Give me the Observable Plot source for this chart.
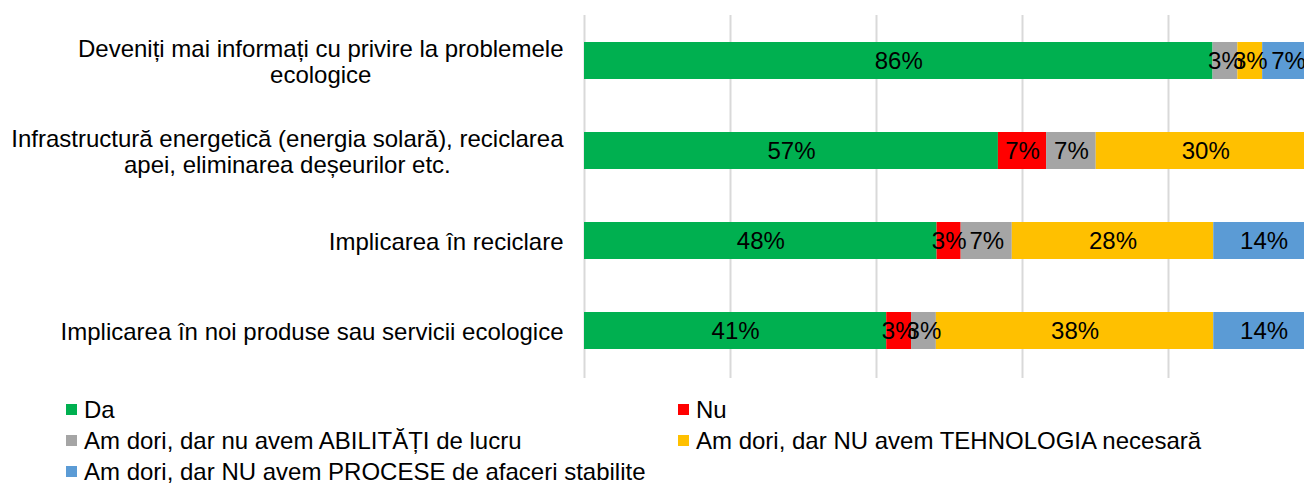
<!DOCTYPE html>
<html>
<head>
<meta charset="utf-8">
<script src="https://cdn.jsdelivr.net/npm/d3@7"></script>
<script src="https://cdn.jsdelivr.net/npm/@observablehq/plot@0.6"></script>
<style>
  html, body { margin: 0; padding: 0; background: #fff; overflow: hidden; }
  body { width: 1304px; font-family: "Liberation Sans", Arial, sans-serif; }
  #chart svg { display: block; overflow: hidden; }
  #legend { display: grid; grid-template-columns: 612px 600px; padding-left: 66px; padding-top: 14px;
            font-size: 24px; color: #000; line-height: 31px; }
  .item { display: flex; align-items: center; white-space: nowrap; }
  .sw { width: 11px; height: 11px; margin-right: 7px; flex: none; }
</style>
</head>
<body>
<div id="chart"></div>
<div id="legend"></div>
<script>
const categories = [
  "Deveniți mai informați cu privire la problemele\necologice",
  "Infrastructură energetică (energia solară), reciclarea\napei, eliminarea deșeurilor etc.",
  "Implicarea în reciclare",
  "Implicarea în noi produse sau servicii ecologice"
];
const series = [
  "Da",
  "Nu",
  "Am dori, dar nu avem ABILITĂȚI de lucru",
  "Am dori, dar NU avem TEHNOLOGIA necesară",
  "Am dori, dar NU avem PROCESE de afaceri stabilite"
];
const colors = ["#00B050", "#FF0000", "#A5A5A5", "#FFC000", "#5B9BD5"];
// percentages (labels show them rounded)
const da    = [86.1, 56.7, 48.3, 41.4];
const nu    = [0, 6.6, 3.3, 3.4];
const abil  = [3.4, 6.8, 7.0, 3.4];
const tehn  = [3.4, 30.0, 27.6, 38.0];
const proc  = [7.1, 0, 13.8, 13.8];
const xTicks = [0, 20, 40, 60, 80];

const valuesBySeries = [da, nu, abil, tehn, proc];
const data = [];
categories.forEach((c, i) => {
  series.forEach((s, j) => {
    const v = valuesBySeries[j][i];
    if (v > 0) data.push({cat: c, series: s, value: v});
  });
});

const chart = Plot.plot({
  width: 1304,
  height: 380,
  marginLeft: 584,
  marginRight: 0,
  marginTop: 15,
  marginBottom: 2,
  style: {fontFamily: '"Liberation Sans", Arial, sans-serif', color: "#000", background: "#fff"},
  x: {domain: [0, 100], range: [584, 1314], axis: null},
  y: {domain: categories, paddingInner: 0.59, paddingOuter: 0.3, label: null},
  color: {domain: series, range: colors},
  marks: [
    Plot.gridX(xTicks, {stroke: "#d9d9d9", strokeOpacity: 1, strokeWidth: 2}),
    Plot.barX(data, Plot.stackX({x: "value", y: "cat", z: "series", fill: "series", dy: -1})),
    Plot.text(data, Plot.stackX({x: "value", y: "cat", z: "series", text: d => Math.round(d.value) + "%",
      fill: "#000", fontSize: 24, dy: -1})),
    Plot.axisY({tickSize: 0, tickPadding: 21, fontSize: 24, lineHeight: 1.08, fill: "#000", label: null})
  ]
});
document.getElementById("chart").appendChild(chart);

// center the lines of multi-line category labels relative to each other
chart.querySelectorAll('g[aria-label="y-axis tick label"] text').forEach(t => {
  const spans = t.querySelectorAll("tspan");
  if (spans.length < 2) return;
  const w = Math.max(...Array.from(spans, s => s.getComputedTextLength()));
  t.setAttribute("text-anchor", "middle");
  spans.forEach(s => s.setAttribute("x", -w / 2));
});

const legend = document.getElementById("legend");
series.forEach((s, j) => {
  const it = document.createElement("div");
  it.className = "item";
  const sw = document.createElement("span");
  sw.className = "sw";
  sw.style.background = colors[j];
  const tx = document.createElement("span");
  tx.textContent = s;
  it.appendChild(sw);
  it.appendChild(tx);
  legend.appendChild(it);
});
</script>
</body>
</html>
